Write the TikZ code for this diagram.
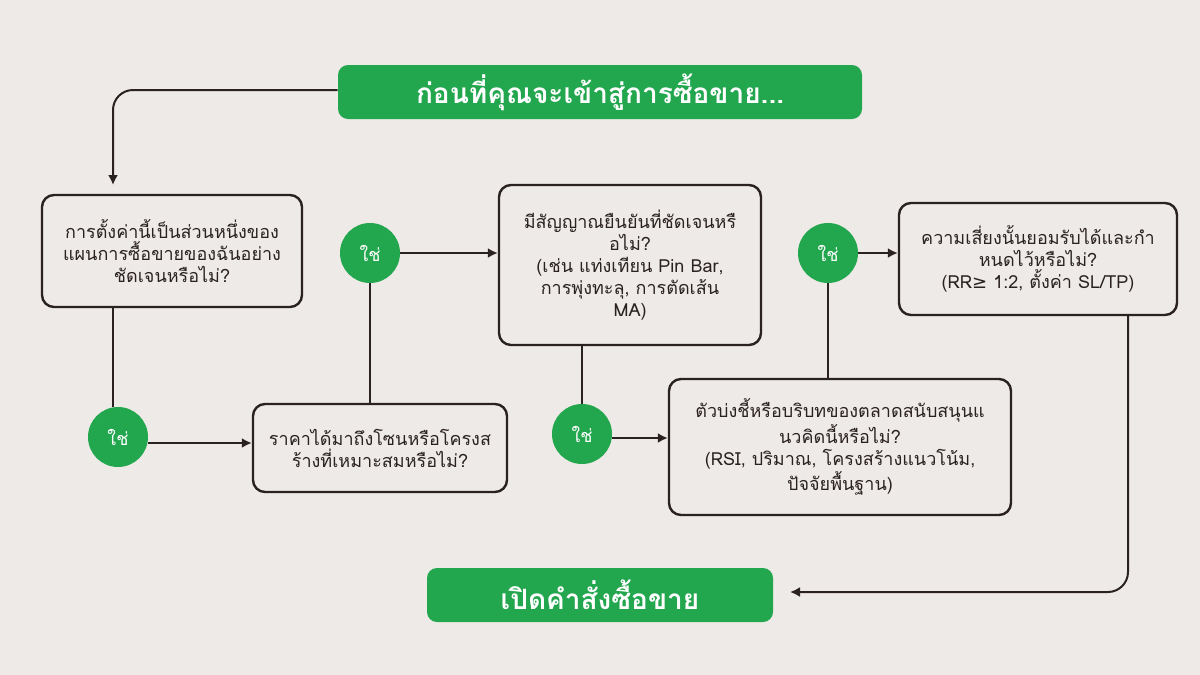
\documentclass[tikz,border=0pt]{standalone}
\usepackage{fontspec}
\newfontfamily\thaifont[Script=Thai]{Loma}
\newfontfamily\symfont{DejaVu Sans}
\usetikzlibrary{arrows.meta,positioning}
\definecolor{bgcol}{HTML}{EEEAE7}
\definecolor{okgreen}{HTML}{22A64E}
\definecolor{inkcol}{HTML}{2A2222}
\tikzset{
  qbox/.style={rectangle, draw=inkcol, line width=1.2pt, rounded corners=6pt,
    align=center, font=\thaifont\fontsize{9}{11}\selectfont, text=inkcol},
  headbox/.style={rectangle, fill=okgreen, rounded corners=5pt, text=white,
    font=\thaifont\bfseries\fontsize{14}{16}\selectfont},
  yes/.style={circle, fill=okgreen, minimum size=30pt, inner sep=0pt, text=white,
    font=\thaifont\fontsize{9}{10}\selectfont},
  link/.style={draw=inkcol, line width=1pt},
  flow/.style={link, -{Latex[length=5pt,width=5pt]}}
}
\begin{document}
\begin{tikzpicture}[x=0.5pt,y=-0.5pt]
  \fill[bgcol] (0,0) rectangle (1200,675);
  \useasboundingbox (0,0) rectangle (1200,675);

  \node[headbox, minimum width=262pt, minimum height=27pt] (start) at (600,92) {ก่อนที่คุณจะเข้าสู่การซื้อขาย...};
  \node[headbox, minimum width=173pt, minimum height=27pt] (open) at (600,595) {เปิดคำสั่งซื้อขาย};

  \node[qbox, minimum width=130pt, minimum height=56pt] (plan) at (172,251)
    {การตั้งค่านี้เป็นส่วนหนึ่งของ\\แผนการซื้อขายของฉันอย่าง\\ชัดเจนหรือไม่?};
  \node[qbox, minimum width=127pt, minimum height=44pt] (zone) at (380,448)
    {ราคาได้มาถึงโซนหรือโครงส\\ร้างที่เหมาะสมหรือไม่?};
  \node[qbox, minimum width=131pt, minimum height=80pt] (signal) at (630,265)
    {มีสัญญาณยืนยันที่ชัดเจนหรื\\อไม่?\\(เช่น แท่งเทียน Pin Bar,\\การพุ่งทะลุ, การตัดเส้น\\MA)};
  \node[qbox, minimum width=171pt, minimum height=68pt] (context) at (840,447)
    {ตัวบ่งชี้หรือบริบทของตลาดสนับสนุนแ\\นวคิดนี้หรือไม่?\\(RSI, ปริมาณ, โครงสร้างแนวโน้ม,\\ปัจจัยพื้นฐาน)};
  \node[qbox, minimum width=139pt, minimum height=56pt] (risk) at (1038,259)
    {ความเสี่ยงนั้นยอมรับได้และกำ\\หนดไว้หรือไม่?\\(RR{\symfont ≥} 1:2, ตั้งค่า SL/TP)};

  \node[yes] (y1) at (118,437) {ใช่};
  \node[yes] (y2) at (370,253) {ใช่};
  \node[yes] (y3) at (582,434) {ใช่};
  \node[yes] (y4) at (828,253) {ใช่};

  \coordinate (intoplan) at (113,185);
  \coordinate (intoopen) at (790,592);
  \draw[flow, rounded corners=10pt] (start.west |- 0,90) -| (intoplan);
  \draw[link] (plan.south -| 113,0) -- (y1.north -| 113,0);
  \draw[flow] (y1.east |- 0,443) -- (zone.west |- 0,443);
  \draw[link] (zone.north -| y2) -- (y2);
  \draw[flow] (y2) -- (signal.west |- y2);
  \draw[link] (signal.south -| y3) -- (y3);
  \draw[flow] (y3.east |- 0,438) -- (context.west |- 0,438);
  \draw[link] (context.north -| y4) -- (y4);
  \draw[flow] (y4) -- (risk.west |- y4);
  \draw[flow, rounded corners=10pt] (risk.south -| 1128,0) |- (intoopen);
\end{tikzpicture}
\end{document}
